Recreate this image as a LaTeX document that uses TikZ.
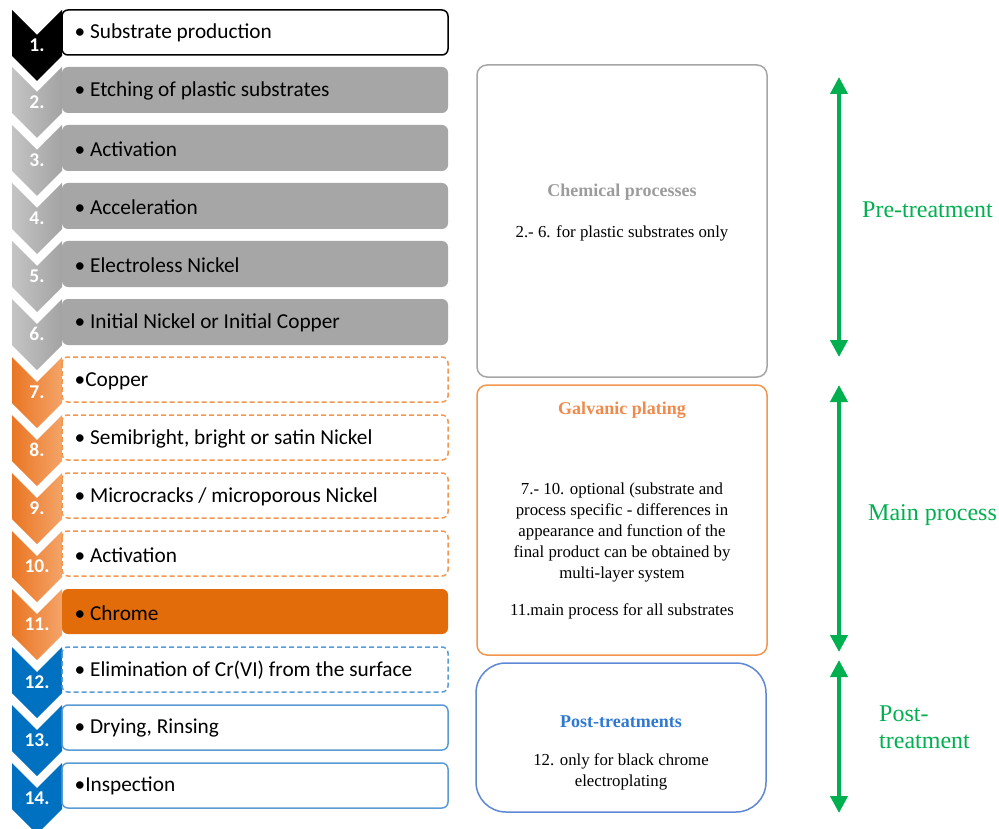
\documentclass[tikz,border=0pt]{standalone}
\usepackage{fontspec}
\setmainfont{Liberation Serif}
\newfontfamily\calfont{Carlito}
\usetikzlibrary{arrows.meta}
\definecolor{grayL}{HTML}{C4C4C4}
\definecolor{grayD}{HTML}{A3A3A3}
\definecolor{grayBox}{HTML}{A6A6A6}
\definecolor{oraL}{HTML}{EA7624}
\definecolor{oraR}{HTML}{F4A468}
\definecolor{oraLine}{HTML}{F29650}
\definecolor{chromeC}{HTML}{E36C0A}
\definecolor{blueC}{HTML}{0070C0}
\definecolor{blueLine}{HTML}{5B9BD5}
\definecolor{postLine}{HTML}{5E88D4}
\definecolor{postT}{HTML}{3079D0}
\definecolor{chemT}{HTML}{9C9C9C}
\definecolor{galvT}{HTML}{F08A4B}
\definecolor{greenC}{HTML}{00B050}
\newcommand\chevpath[1]{(12,#1) -- (37,#1+25) -- (62,#1) -- (62,#1+46) -- (37,#1+71) -- (12,#1+46) -- cycle}
\begin{document}
\begin{tikzpicture}[x=1pt,y=-1pt,
  boxbase/.style={rounded corners=6pt, line width=1.5pt},
  numlab/.style={text=white, font=\calfont\bfseries\fontsize{19.5}{22}\selectfont},
  boxtext/.style={anchor=west, inner sep=0pt, font=\calfont\fontsize{21.3}{25}\selectfont},
  sidebox/.style={draw, line width=1.5pt, rounded corners=10pt, minimum width=290pt},
  serifbody/.style={align=center, inner sep=0pt, font=\fontsize{16.8}{21}\selectfont},
  seriftitle/.style={inner sep=0pt, font=\bfseries\fontsize{18}{21}\selectfont},
  greenlab/.style={anchor=west, inner sep=0pt, align=left, text=greenC, font=\fontsize{24}{27}\selectfont},
  greenarrow/.style={draw=greenC, line width=4pt, {Triangle[width=17pt,length=17pt]}-{Triangle[width=17pt,length=17pt]}}
]
\useasboundingbox (0,0) rectangle (999,829);
\fill[white] (0,0) rectangle (999,829);

% chevrons
\fill[black] \chevpath{10};
\foreach \t in {67,125,183,241,299}{
  \shade[left color=grayL, right color=grayD] \chevpath{\t};
}
\foreach \t in {357,415,473,531,589}{
  \shade[left color=oraL, right color=oraR] \chevpath{\t};
}
\foreach \t in {647,705,763}{
  \fill[blueC] \chevpath{\t};
}

% step boxes
\draw[boxbase, fill=white, draw=black] (62,10) rectangle (448,55);
\foreach \t in {67,125,183,241,299}{
  \fill[boxbase, grayBox] (62,\t) rectangle (448,\t+46);
}
\foreach \t in {357,415,473,531}{
  \draw[boxbase, fill=white, draw=oraLine, dash pattern=on 5pt off 3pt] (62,\t) rectangle (448,\t+45);
}
\fill[boxbase, chromeC] (62,589) rectangle (448,634);
\draw[boxbase, fill=white, draw=blueLine, dash pattern=on 5pt off 3pt] (62,647) rectangle (448,692);
\draw[boxbase, fill=white, draw=blueLine] (62,705) rectangle (448,750);
\draw[boxbase, fill=white, draw=blueLine] (62,763) rectangle (448,808);

% step numbers
\foreach \n/\t in {1/10,2/67,3/125,4/183,5/241,6/299,7/357,8/415,9/473,10/531,11/589,12/647,13/705,14/763}{
  \node[numlab] (num\n) at (37,\t+35) {\n.};
}

% step texts
\node[boxtext] (s1) at (74.5,33) {• Substrate production};
\node[boxtext] (s2) at (74.5,91) {• Etching of plastic substrates};
\node[boxtext] (s3) at (74.5,149) {• Activation};
\node[boxtext] (s4) at (74.5,207) {• Acceleration};
\node[boxtext] (s5) at (74.5,265) {• Electroless Nickel};
\node[boxtext] (s6) at (74.5,323) {• Initial Nickel or Initial Copper};
\node[boxtext] (s7) at (74.5,381) {•Copper};
\node[boxtext] (s8) at (74.5,439) {• Semibright, bright or satin Nickel};
\node[boxtext] (s9) at (74.5,497) {• Microcracks / microporous Nickel};
\node[boxtext] (s10) at (74.5,555) {• Activation};
\node[boxtext] (s11) at (74.5,613) {• Chrome};
\node[boxtext] (s12) at (74.5,670) {• Elimination of Cr(VI) from the surface};
\node[boxtext] (s13) at (74.5,728) {• Drying, Rinsing};
\node[boxtext] (s14) at (74.5,786) {•Inspection};

% side boxes
\node[sidebox, draw=grayBox, minimum height=312pt] (chem) at (622,221) {};
\node[seriftitle, text=chemT] (chemTitle) at (622,192) {Chemical processes};
\node[serifbody] (chemBody) at (622,233) {2.- 6. for plastic substrates only};

\node[sidebox, draw=oraLine, minimum height=270pt] (galv) at (622,520) {};
\node[seriftitle, text=galvT] (galvTitle) at (622,410) {Galvanic plating};
\node[serifbody] (galvBody) at (622,532) {7.- 10. optional (substrate and\\process specific - differences in\\appearance and function of the\\final product can be obtained by\\multi-layer system};
\node[serifbody] (galvBody2) at (622,611) {11.main process for all substrates};

\node[sidebox, draw=postLine, rounded corners=30pt, minimum height=149pt] (post) at (621,737.5) {};
\node[seriftitle, text=postT] (postTitle) at (621,722) {Post-treatments};
\node[serifbody] (postBody) at (621,771.5) {12. only for black chrome\\electroplating};

% green arrows
\coordinate (a1s) at (839,77);
\coordinate (a1e) at (839,357);
\coordinate (a2s) at (839,385);
\coordinate (a2e) at (839,652);
\coordinate (a3s) at (839,660);
\coordinate (a3e) at (839,813);
\draw[greenarrow] (a1s) -- (a1e);
\draw[greenarrow] (a2s) -- (a2e);
\draw[greenarrow] (a3s) -- (a3e);

\node[greenlab] (lpre) at (862,210) {Pre-treatment};
\node[greenlab] (lmain) at (868,515) {Main process};
\node[greenlab] (lpost) at (879,727.5) {Post-\\treatment};
\end{tikzpicture}
\end{document}
